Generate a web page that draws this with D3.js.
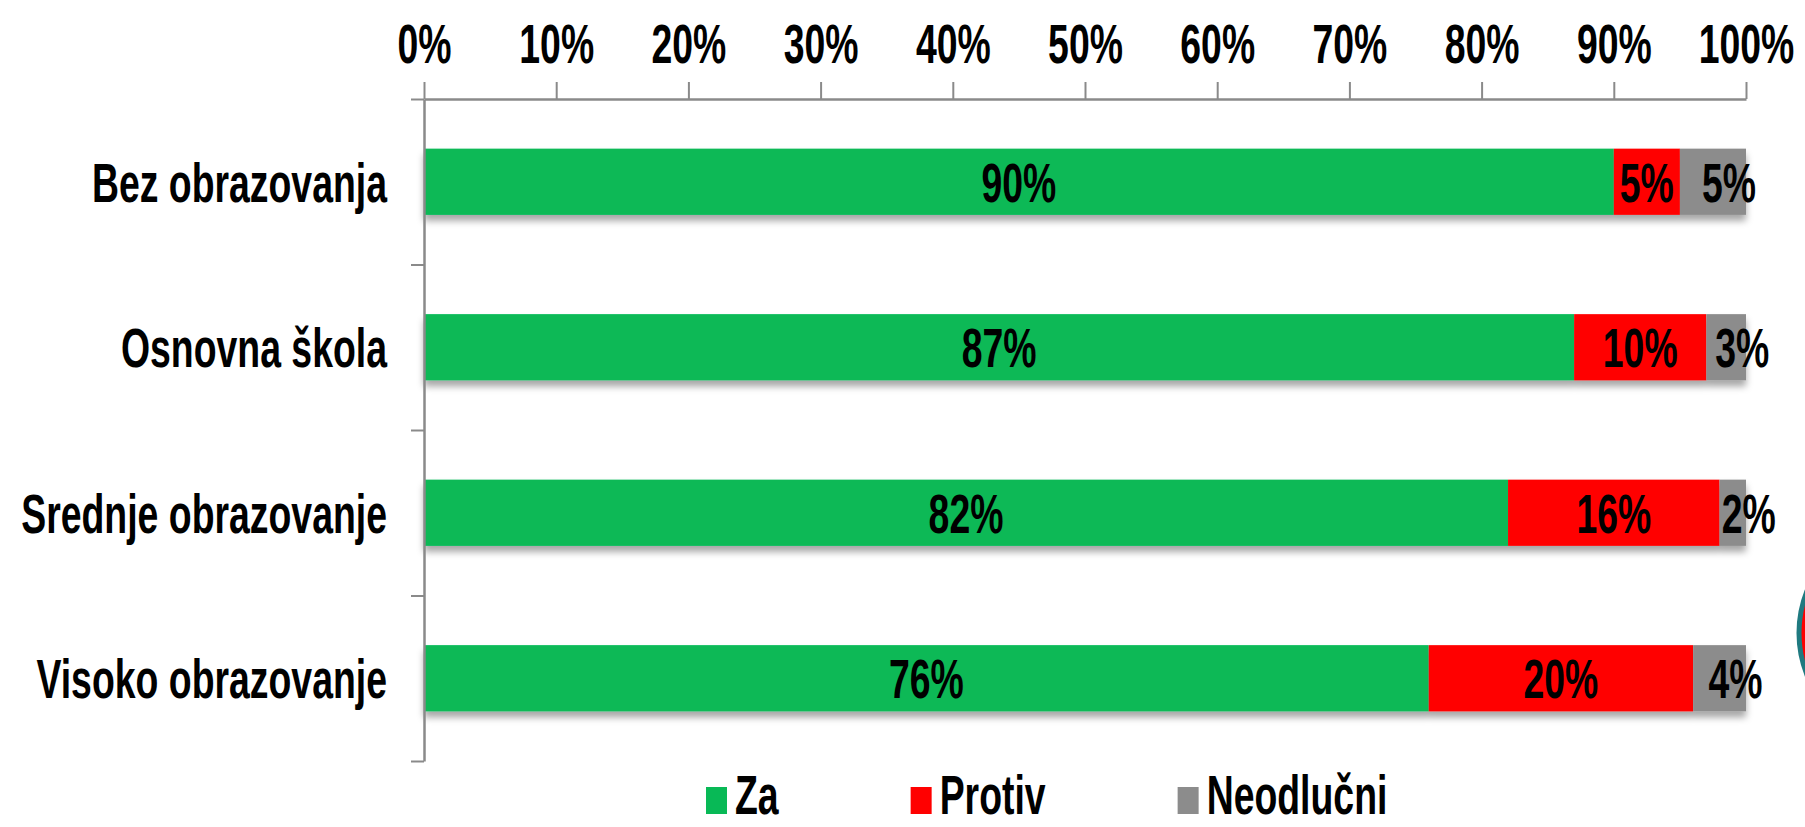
<!DOCTYPE html>
<html>
<head>
<meta charset="utf-8">
<script src="https://cdn.jsdelivr.net/npm/d3@7"></script>
<style>
  body { margin: 0; background: #fff; }
  svg { display: block; }
</style>
</head>
<body>
<script>
// data
const categories = ["Bez obrazovanja", "Osnovna škola", "Srednje obrazovanje", "Visoko obrazovanje"];
const seriesNames = ["Za", "Protiv", "Neodlučni"];
const za = [90, 87, 82, 76];
const protiv = [5, 10, 16, 20];
const neodlucni = [5, 3, 2, 4];
const tickValues = [0, 10, 20, 30, 40, 50, 60, 70, 80, 90, 100];

const w = 1805, h = 827;
const colors = d3.scaleOrdinal(seriesNames, ["#08b956", "#ff0000", "#8c8c8c"]);
const font = "'Liberation Sans Narrow','Arial Narrow','Liberation Sans',Arial,sans-serif";
const fs = 56;

const svg = d3.select("body").append("svg")
  .attr("width", w)
  .attr("height", h);

// squeeze the font so "Protiv" is as wide as in the picture
const probe = svg.append("text")
  .attr("font-family", font).attr("font-weight", "bold").attr("font-size", fs)
  .text("Protiv");
const sx = 106 / probe.node().getComputedTextLength();
probe.remove();

const defs = svg.append("defs");
const shadow = defs.append("filter").attr("id", "shadow")
  .attr("x", "-5%").attr("y", "-30%").attr("width", "110%").attr("height", "170%");
shadow.append("feDropShadow")
  .attr("dx", 0).attr("dy", 6).attr("stdDeviation", 3.5)
  .attr("flood-color", "#000").attr("flood-opacity", 0.35);

const x = d3.scaleLinear().domain([0, 100]).range([424, 1746]);
const y = d3.scaleBand().domain(categories).range([99, 761])
  .paddingInner(0.6).paddingOuter(0.3);
const yEdges = d3.scaleLinear().domain([0, categories.length]).range([99, 761]);

const rows = categories.map((c, i) => ({cat: c, Za: za[i], Protiv: protiv[i], "Neodlučni": neodlucni[i]}));
const stacked = d3.stack().keys(seriesNames)(rows);

const capHalf = fs * 0.36;

function label(g, txt, tx, ty, anchor) {
  return g.append("text")
    .attr("transform", `translate(${tx},${ty}) scale(${sx},1)`)
    .attr("text-anchor", anchor)
    .attr("font-family", font)
    .attr("font-weight", "bold")
    .attr("font-size", fs)
    .attr("fill", "#000")
    .text(txt);
}

// bars (with the soft shadow under each whole bar)
const barG = svg.append("g");
categories.forEach((c, i) => {
  const row = barG.append("g").attr("filter", "url(#shadow)");
  stacked.forEach(s => {
    row.append("rect")
      .attr("x", x(s[i][0]))
      .attr("y", y(c))
      .attr("width", x(s[i][1]) - x(s[i][0]))
      .attr("height", y.bandwidth())
      .attr("fill", colors(s.key));
  });
});

// axes
const axisColor = "#8a8a8a";
const xAxis = svg.append("g")
  .attr("transform", "translate(0,99)")
  .call(d3.axisTop(x).tickValues(tickValues).tickSize(17).tickSizeOuter(0).tickPadding(19)
    .tickFormat(d => d + "%"));
const yAxis = svg.append("g")
  .attr("transform", "translate(424,0)")
  .call(d3.axisLeft(yEdges).tickValues(d3.range(categories.length + 1)).tickSize(13)
    .tickSizeOuter(0).tickFormat(""));
[xAxis, yAxis].forEach(a => {
  a.select(".domain").attr("stroke", axisColor).attr("stroke-width", 2.5);
  a.selectAll(".tick line").attr("stroke", axisColor).attr("stroke-width", 2);
});
xAxis.selectAll(".tick text")
  .attr("transform", `scale(${sx},1)`)
  .attr("font-family", font)
  .attr("font-weight", "bold")
  .attr("font-size", fs)
  .attr("fill", "#000");

// category labels
const catG = svg.append("g");
categories.forEach(c => {
  label(catG, c, 387, y(c) + y.bandwidth() / 2 + capHalf, "end");
});

// value labels
const valG = svg.append("g");
stacked.forEach((s, k) => {
  s.forEach((d, i) => {
    const v = d[1] - d[0];
    let cx = (x(d[0]) + x(d[1])) / 2;
    if (k === 2) cx += 16;  // last segment is thin, label sits a bit to the right
    label(valG, v + "%", cx, y(categories[i]) + y.bandwidth() / 2 + capHalf, "middle");
  });
});

// legend
const legend = svg.append("g");
const legBase = 814;
let lx = 706;
seriesNames.forEach(name => {
  legend.append("rect")
    .attr("x", lx).attr("y", legBase - 27)
    .attr("width", 21).attr("height", 27)
    .attr("fill", colors(name));
  const t = label(legend, name, lx + 29, legBase, "start");
  lx += 29 + t.node().getComputedTextLength() * sx + 132;
});

// bit of a round badge cut off at the right edge
svg.append("circle")
  .attr("cx", 1913).attr("cy", 633).attr("r", 114)
  .attr("fill", "#ff0000")
  .attr("stroke", "#1f7a80")
  .attr("stroke-width", 5);
</script>
</body>
</html>
